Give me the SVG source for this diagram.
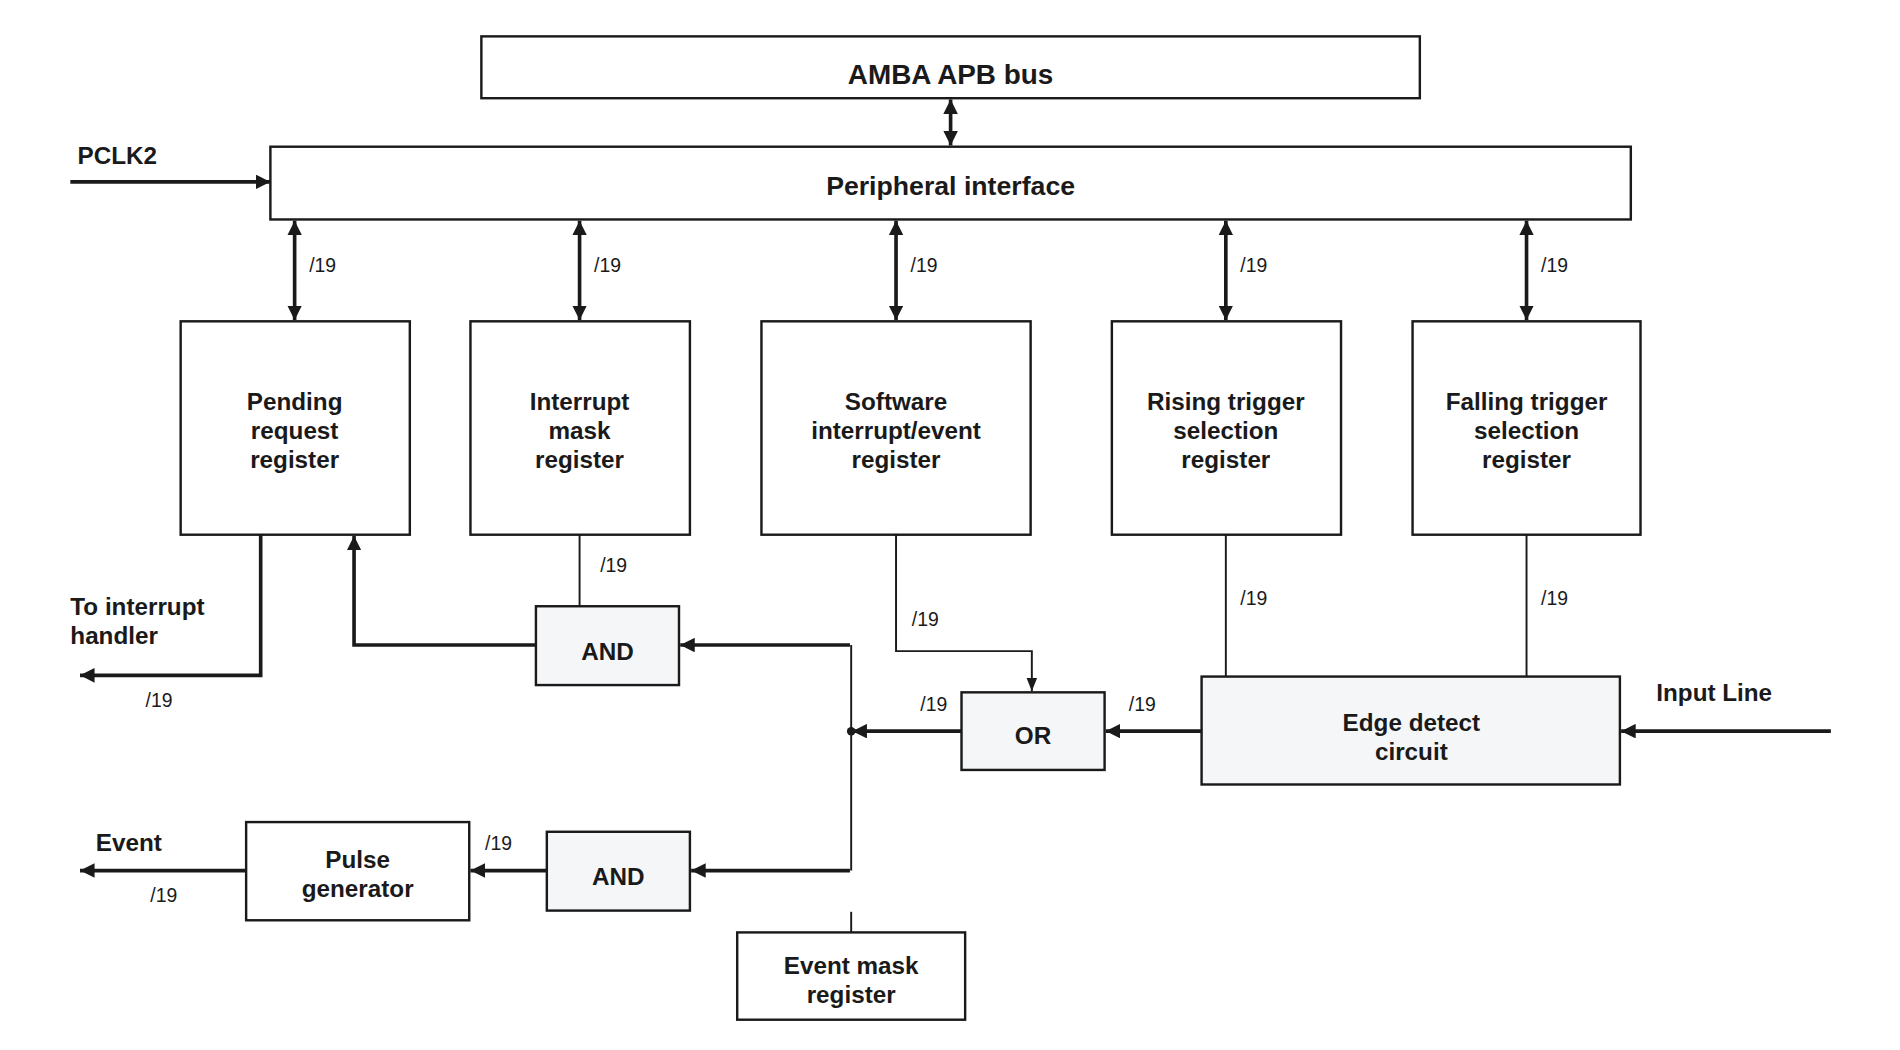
<svg xmlns="http://www.w3.org/2000/svg" width="1900" height="1050" viewBox="0 0 1900 1050">
<defs>
<marker id="ah" viewBox="0 0 10 10" refX="10" refY="5" markerWidth="4" markerHeight="4" orient="auto-start-reverse"><path d="M0,0 L10,5 L0,10 z" fill="#1a1a1a"/></marker>
<marker id="ahs" viewBox="0 0 10 10" refX="10" refY="5" markerWidth="7" markerHeight="7" orient="auto-start-reverse"><path d="M0,1 L10,5 L0,9 z" fill="#1a1a1a"/></marker>
</defs>
<style>
.b{fill:#fff;stroke:#1a1a1a;stroke-width:2}
.g{fill:#f5f6f8;stroke:#1a1a1a;stroke-width:2}
.t{font-family:"Liberation Sans",Arial,sans-serif;font-weight:bold;font-size:20px;fill:#1a1a1a;text-anchor:middle}
.l{font-family:"Liberation Sans",Arial,sans-serif;font-weight:bold;font-size:20px;fill:#1a1a1a}
.n{font-family:"Liberation Sans",Arial,sans-serif;font-size:16px;fill:#1a1a1a}
.w{fill:none;stroke:#1a1a1a;stroke-width:3}
.th{fill:none;stroke:#1a1a1a;stroke-width:1.6}
</style>
<rect width="1900" height="1050" fill="#fff"/>
<g transform="scale(1.2125)">
<g id="amba"><rect class="b" x="397" y="30" width="774" height="51"/><text class="t" x="784" y="69" style="font-size:23px">AMBA APB bus</text></g>
<g id="periph"><rect class="b" x="223" y="121" width="1122" height="60"/><text class="t" x="784" y="161" style="font-size:22px">Peripheral interface</text></g>
<g id="pending"><rect class="b" x="149" y="265" width="189" height="176"/><text class="t" x="243" y="338">Pending</text><text class="t" x="243" y="362">request</text><text class="t" x="243" y="386">register</text></g>
<g id="imask"><rect class="b" x="388" y="265" width="181" height="176"/><text class="t" x="478" y="338">Interrupt</text><text class="t" x="478" y="362">mask</text><text class="t" x="478" y="386">register</text></g>
<g id="swi"><rect class="b" x="628" y="265" width="222" height="176"/><text class="t" x="739" y="338">Software</text><text class="t" x="739" y="362">interrupt/event</text><text class="t" x="739" y="386">register</text></g>
<g id="rising"><rect class="b" x="917" y="265" width="189" height="176"/><text class="t" x="1011" y="338">Rising trigger</text><text class="t" x="1011" y="362">selection</text><text class="t" x="1011" y="386">register</text></g>
<g id="falling"><rect class="b" x="1165" y="265" width="188" height="176"/><text class="t" x="1259" y="338">Falling trigger</text><text class="t" x="1259" y="362">selection</text><text class="t" x="1259" y="386">register</text></g>
<g id="and1"><rect class="g" x="442" y="500" width="118" height="65"/><text class="t" x="501" y="544">AND</text></g>
<g id="or"><rect class="g" x="793" y="571" width="118" height="64"/><text class="t" x="852" y="614">OR</text></g>
<g id="edge"><rect class="g" x="991" y="558" width="345" height="89"/><text class="t" x="1164" y="603">Edge detect</text><text class="t" x="1164" y="627">circuit</text></g>
<g id="and2"><rect class="g" x="451" y="686" width="118" height="65"/><text class="t" x="510" y="730">AND</text></g>
<g id="pulse"><rect class="b" x="203" y="678" width="184" height="81"/><text class="t" x="295" y="716">Pulse</text><text class="t" x="295" y="740">generator</text></g>
<g id="evmask"><rect class="b" x="608" y="769" width="188" height="72"/><text class="t" x="702" y="803">Event mask</text><text class="t" x="702" y="827">register</text></g>
<g id="labels">
<text class="l" x="64" y="135">PCLK2</text>
<text class="l" x="58" y="507">To interrupt</text><text class="l" x="58" y="531">handler</text>
<text class="l" x="1366" y="578">Input Line</text>
<text class="l" x="79" y="702">Event</text>
<text class="n" x="255" y="224">/19</text><text class="n" x="490" y="224">/19</text><text class="n" x="751" y="224">/19</text><text class="n" x="1023" y="224">/19</text><text class="n" x="1271" y="224">/19</text>
<text class="n" x="495" y="472">/19</text><text class="n" x="752" y="516">/19</text><text class="n" x="1023" y="499">/19</text><text class="n" x="1271" y="499">/19</text>
<text class="n" x="120" y="583">/19</text><text class="n" x="759" y="586">/19</text><text class="n" x="931" y="586">/19</text>
<text class="n" x="400" y="701">/19</text><text class="n" x="124" y="744">/19</text>
</g>
<g id="connectors">
<line class="w" x1="58" y1="150" x2="223" y2="150" marker-end="url(#ah)"/>
<line class="w" x1="784" y1="82" x2="784" y2="120" marker-start="url(#ah)" marker-end="url(#ah)"/>
<line class="w" x1="243" y1="182" x2="243" y2="264" marker-start="url(#ah)" marker-end="url(#ah)"/>
<line class="w" x1="478" y1="182" x2="478" y2="264" marker-start="url(#ah)" marker-end="url(#ah)"/>
<line class="w" x1="739" y1="182" x2="739" y2="264" marker-start="url(#ah)" marker-end="url(#ah)"/>
<line class="w" x1="1011" y1="182" x2="1011" y2="264" marker-start="url(#ah)" marker-end="url(#ah)"/>
<line class="w" x1="1259" y1="182" x2="1259" y2="264" marker-start="url(#ah)" marker-end="url(#ah)"/>
<line class="th" x1="478" y1="441" x2="478" y2="500"/>
<polyline class="w" points="442,532 292,532 292,442" marker-end="url(#ah)"/>
<polyline class="w" points="215,441 215,557 66,557" marker-end="url(#ah)"/>
<polyline class="th" points="739,441 739,537 851,537 851,570" marker-end="url(#ahs)"/>
<line class="th" x1="1011" y1="441" x2="1011" y2="558"/>
<line class="th" x1="1259" y1="441" x2="1259" y2="558"/>
<line class="w" x1="1510" y1="603" x2="1337" y2="603" marker-end="url(#ah)"/>
<line class="w" x1="991" y1="603" x2="912" y2="603" marker-end="url(#ah)"/>
<line class="w" x1="793" y1="603" x2="703" y2="603" marker-end="url(#ah)"/>
<circle cx="702" cy="603" r="3.5" fill="#1a1a1a"/>
<polyline class="th" points="702,532 702,718"/>
<line class="w" x1="701" y1="532" x2="561" y2="532" marker-end="url(#ah)"/>
<line class="w" x1="701" y1="718" x2="570" y2="718" marker-end="url(#ah)"/>
<line class="w" x1="451" y1="718" x2="388" y2="718" marker-end="url(#ah)"/>
<line class="w" x1="203" y1="718" x2="66" y2="718" marker-end="url(#ah)"/>
<line class="th" x1="702" y1="752" x2="702" y2="769"/>
</g>
</g>
</svg>
